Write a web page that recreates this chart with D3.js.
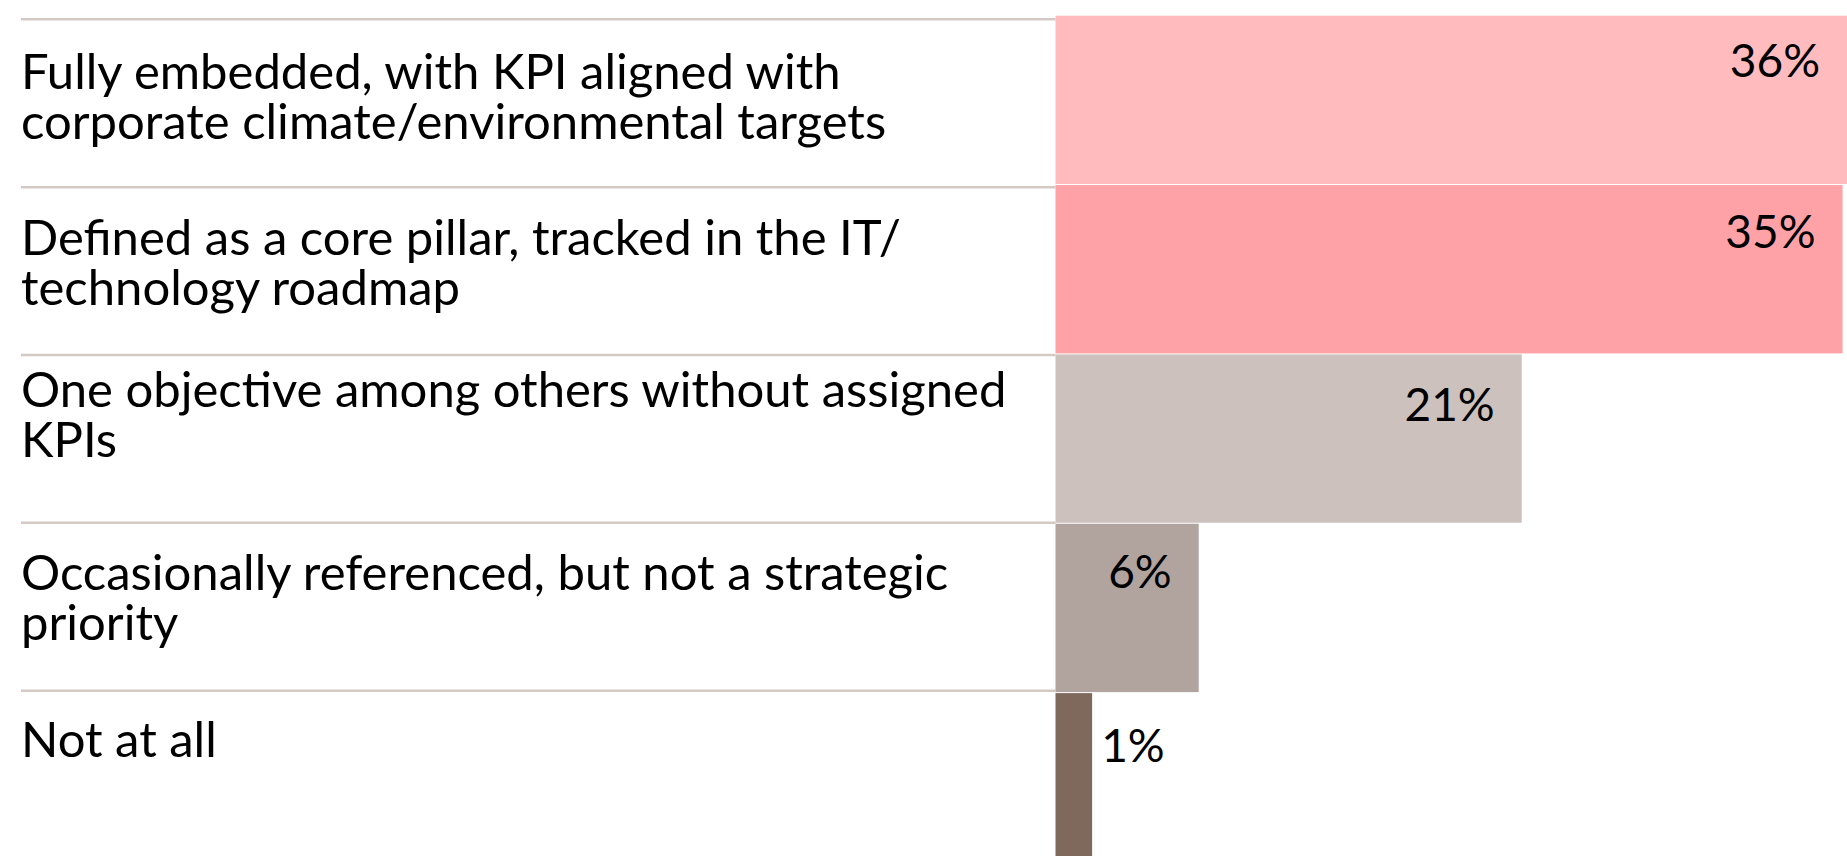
<!DOCTYPE html>
<html>
<head>
<meta charset="utf-8">
<script src="https://cdn.jsdelivr.net/npm/d3@7"></script>
<style>
  html, body { margin: 0; padding: 0; background: #ffffff; overflow: hidden; }
  svg { display: block; }
  text { font-family: Lato, "Noto Sans", sans-serif; fill: #000; }
</style>
</head>
<body>
<script>
// ---- data ----
const categories = [
  "Fully embedded, with KPI aligned with corporate climate/environmental targets",
  "Defined as a core pillar, tracked in the IT/ technology roadmap",
  "One objective among others without assigned KPIs",
  "Occasionally referenced, but not a strategic priority",
  "Not at all"
];
const categoryLines = [
  ["Fully embedded, with KPI aligned with", "corporate climate/environmental targets"],
  ["Defined as a core pillar, tracked in the IT/", "technology roadmap"],
  ["One objective among others without assigned", "KPIs"],
  ["Occasionally referenced, but not a strategic", "priority"],
  ["Not at all"]
];
const values = [35.65, 35.45, 21.0, 6.45, 1.65];
const valueLabels = ["36%", "35%", "21%", "6%", "1%"];
const barColors = ["#ffbbbd", "#ffa2a7", "#ccc1bd", "#b1a49f", "#7f685c"];

// ---- layout constants (not data) ----
const W = 1847, H = 856;
const barLeft = 1055.5;
const catBaseline = [70, 68, 52, 67, 66];   // first-line baseline below each separator line
const valBaseline = [61, 63, 67, 64, 69];   // value label baseline below each bar top

const svg = d3.select("body").append("svg").attr("width", W).attr("height", H);

const x = d3.scaleLinear().domain([0, d3.max(values)]).range([barLeft, W]);

// bar bands
const yBar = d3.scaleBand().domain(d3.range(categories.length))
  .range([15.7, 15.7 + 169.15 * categories.length]).paddingInner(0.006).paddingOuter(0);
// label rows (separator lines)
const yRow = d3.scaleBand().domain(d3.range(categories.length))
  .range([19.3, 19.3 + 167.85 * categories.length]);

// separator lines
svg.append("g").selectAll("line").data(categories).join("line")
  .attr("x1", 21).attr("x2", barLeft)
  .attr("y1", (d, i) => yRow(i)).attr("y2", (d, i) => yRow(i))
  .attr("stroke", "#d3c9c5").attr("stroke-width", 2.5);

// bars
svg.append("g").selectAll("rect").data(values).join("rect")
  .attr("x", x(0))
  .attr("y", (d, i) => yBar(i))
  .attr("width", d => x(d) - x(0))
  .attr("height", yBar.bandwidth())
  .attr("fill", (d, i) => barColors[i]);

// category labels
const fs = 49;
const catG = svg.append("g");
categoryLines.forEach((lines, i) => {
  const t = catG.append("text")
    .attr("x", 21)
    .attr("y", yRow(i) + catBaseline[i])
    .attr("font-size", fs);
  lines.forEach((ln, j) => {
    t.append("tspan").attr("x", 21).attr("dy", j === 0 ? 0 : 50).text(ln);
  });
});

// value labels
const inside = d => x(d) - x(0) > 120;
svg.append("g").selectAll("text").data(values).join("text")
  .attr("font-size", 46)
  .attr("y", (d, i) => yBar(i) + valBaseline[i])
  .attr("x", d => inside(d) ? x(d) - 27 : x(d) + 9)
  .attr("text-anchor", d => inside(d) ? "end" : "start")
  .text((d, i) => valueLabels[i]);
</script>
</body>
</html>
